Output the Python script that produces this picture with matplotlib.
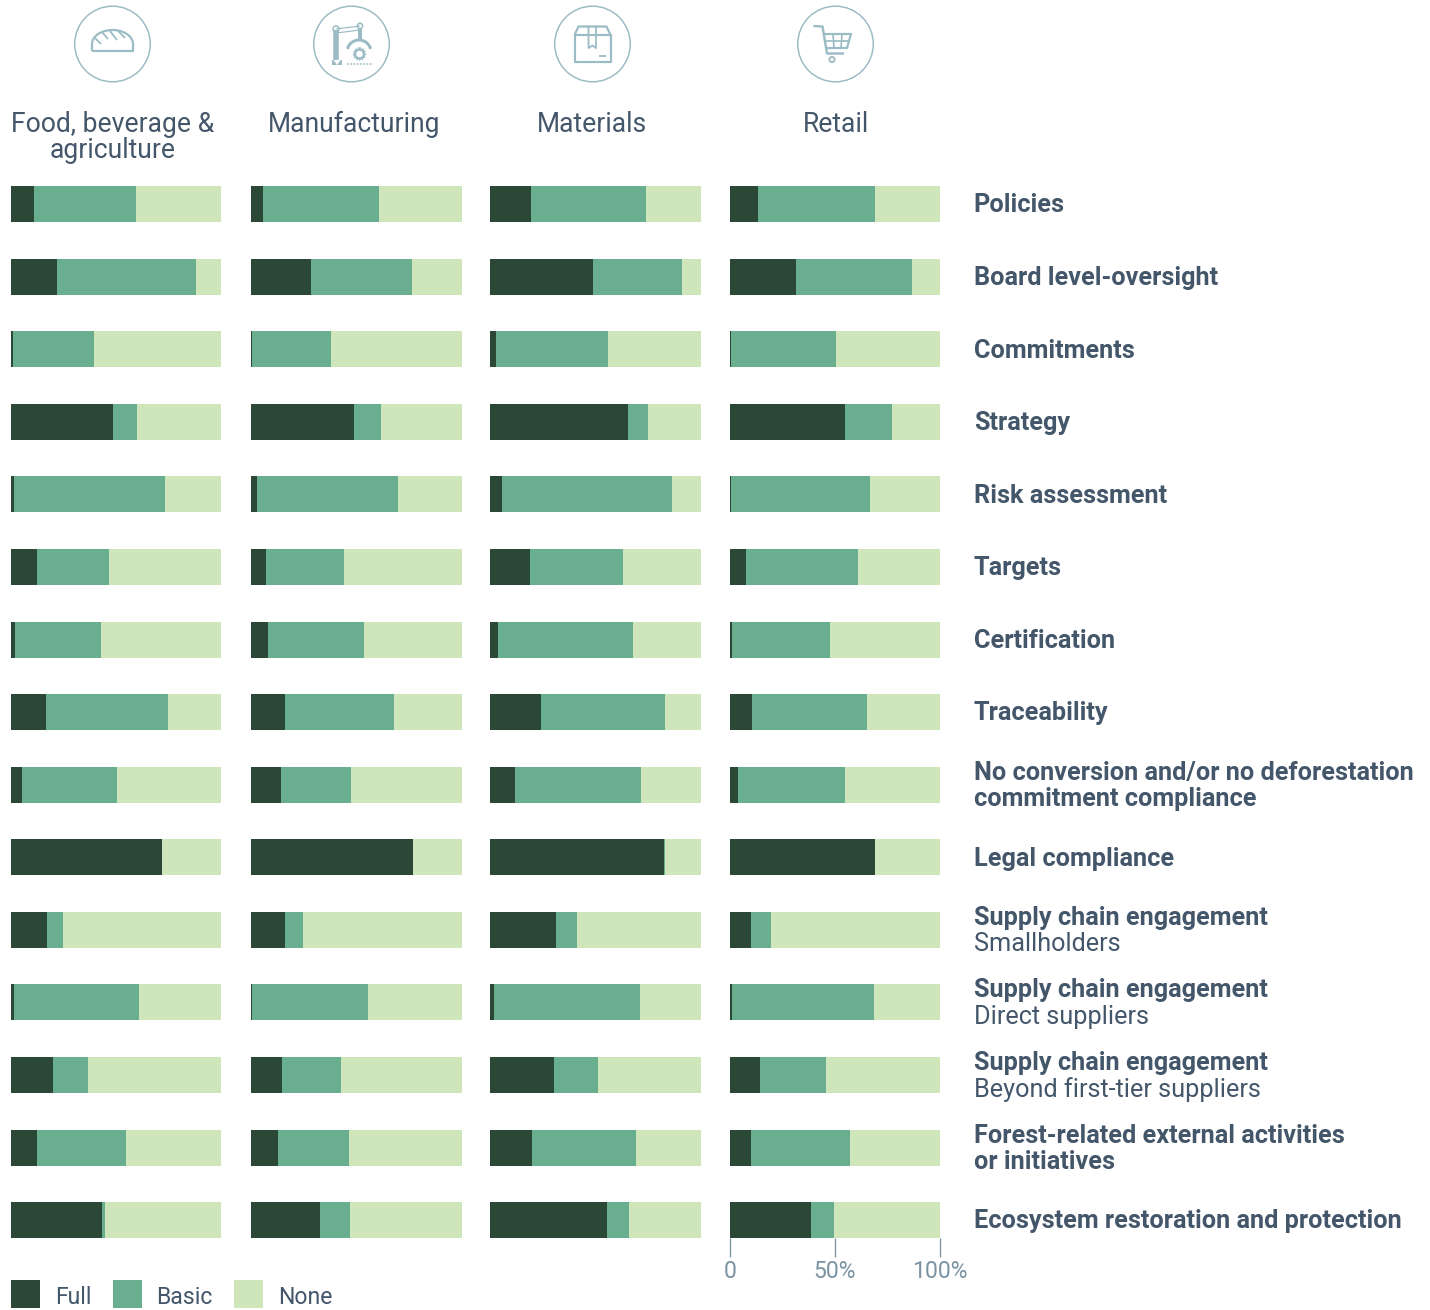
import numpy as np
import matplotlib
matplotlib.use("Agg")
import matplotlib.pyplot as plt
from matplotlib.patches import Circle, Polygon, Arc, Patch
from matplotlib.lines import Line2D

plt.rcParams['font.family'] = ['Roboto', 'DejaVu Sans']

sectors = ["Food, beverage &\nagriculture", "Manufacturing", "Materials", "Retail"]
levels = ["Full", "Basic", "None"]
row_titles = ["Policies", "Board level-oversight", "Commitments", "Strategy", "Risk assessment",
              "Targets", "Certification", "Traceability",
              "No conversion and/or no deforestation\ncommitment compliance", "Legal compliance",
              "Supply chain engagement", "Supply chain engagement", "Supply chain engagement",
              "Forest-related external activities\nor initiatives", "Ecosystem restoration and protection"]
row_subtitles = ["", "", "", "", "", "", "", "", "", "", "Smallholders", "Direct suppliers",
                 "Beyond first-tier suppliers", "", ""]
tick_values = [0, 50, 100]
tick_labels = ["0", "50%", "100%"]

food_full = [11, 22.1, 1, 48.5, 1.7, 12.4, 2.1, 17, 5.4, 72, 17.5, 1.6, 20.4, 12.7, 43.3]
food_basic = [48.5, 66, 38.5, 11.5, 71.7, 34.3, 40.7, 57.8, 45.1, 0, 7.5, 59.4, 16.6, 42, 1.4]
food_none = [40.5, 11.9, 60.5, 40, 26.6, 53.3, 57.2, 25.2, 49.5, 28, 75, 39, 63, 45.3, 55.3]

manu_full = [5.7, 28.6, 0.5, 48.8, 2.8, 7.1, 8.1, 16.1, 14.2, 76.8, 16.1, 0.4, 14.7, 12.8, 32.9]
manu_basic = [55, 47.9, 37.4, 12.8, 66.8, 37, 45.7, 51.7, 33.2, 0, 8.5, 55.1, 28, 33.6, 14.3]
manu_none = [39.3, 23.5, 62.1, 38.4, 30.4, 55.9, 46.2, 32.2, 52.6, 23.2, 75.4, 44.5, 57.3, 53.6, 52.8]

mate_full = [19.4, 48.8, 2.8, 65.4, 5.7, 19, 3.8, 24.2, 11.8, 82.5, 31.3, 1.9, 30.3, 19.9, 55.5]
mate_basic = [54.5, 42.2, 53.1, 9.5, 80.6, 44, 64, 58.8, 59.7, 0.3, 10, 69.2, 20.9, 49.3, 10.4]
mate_none = [26.1, 9, 44.1, 25.1, 13.7, 37, 32.2, 17, 28.5, 17.2, 58.7, 28.9, 48.8, 30.8, 34.1]

reta_full = [13.3, 31.4, 0.5, 54.6, 0.5, 7.6, 1, 10.5, 3.9, 69, 10, 1, 14.5, 10, 38.5]
reta_basic = [55.6, 55.2, 49.9, 22.8, 66, 53.2, 46.6, 54.6, 50.7, 0, 9.5, 67.5, 31.3, 47, 10.9]
reta_none = [31.1, 13.4, 49.6, 22.6, 33.5, 39.2, 52.4, 34.9, 45.4, 31, 80.5, 31.5, 54.2, 43, 50.6]

sector_values = [(food_full, food_basic, food_none),
                 (manu_full, manu_basic, manu_none),
                 (mate_full, mate_basic, mate_none),
                 (reta_full, reta_basic, reta_none)]

COL_FULL, COL_BASIC, COL_NONE = "#2b4736", "#68ae8f", "#cfe5ba"
colors = [COL_FULL, COL_BASIC, COL_NONE]
TXT = "#44566a"
TICK = "#7b93a2"
ICON = "#9bbcc4"

W, H = 1430, 1310
fig = plt.figure(figsize=(W / 100, H / 100), dpi=100, facecolor="white")
PX = 0.72  # points per pixel at dpi 100

def rect(x0, y0, x1, y1):
    return [x0 / W, 1 - y1 / H, (x1 - x0) / W, (y1 - y0) / H]

col_x = [(10.5, 221.2), (250.7, 461.7), (490, 701), (730, 939.8)]
top, bottom = 186.2, 1238.2
n = len(row_titles)
pitch = (bottom - top - 36) / (n - 1)
bar_h = 36 / pitch
y = np.arange(n)

for i, (x0, x1) in enumerate(col_x):
    ax = fig.add_axes(rect(x0, top, x1, bottom))
    ax.patch.set_visible(False)
    left = np.zeros(n)
    for vals, c in zip(sector_values[i], colors):
        vals = np.asarray(vals, float)
        ax.barh(y, vals, left=left, height=bar_h, color=c, linewidth=0)
        left += vals
    ax.set_xlim(0, 100)
    ax.set_ylim(n - 1 + bar_h / 2, -bar_h / 2)
    for s in ax.spines.values():
        s.set_visible(False)
    ax.set_yticks([])
    if i == 3:
        ax.set_xticks(tick_values, tick_labels)
        ax.tick_params(axis="x", length=19 * PX, width=1.3 * PX, color=TICK, labelcolor=TICK,
                       labelsize=23 * PX, pad=2.5 * PX)
    else:
        ax.set_xticks([])

ov = fig.add_axes([0, 0, 1, 1], zorder=5)
ov.set_xlim(0, W)
ov.set_ylim(H, 0)
ov.axis("off")

# Sector headings
title_x = [112.5, 353.8, 591.8, 836]
for t, xc in zip(sectors, title_x):
    for k, line in enumerate(t.split("\n")):
        ov.text(xc, 132.5 + 26 * k, line, ha="center", va="baseline", color=TXT, fontsize=26.5 * PX)

# Row labels
LX = 973.7
line_h = 26.5
for i in range(n):
    yc = top + 18 + i * pitch
    lines = [(s, "bold") for s in row_titles[i].split("\n")]
    if row_subtitles[i]:
        lines.append((row_subtitles[i], "normal"))
    y0 = yc - (len(lines) - 1) * line_h / 2 + 8.2
    for k, (s, w) in enumerate(lines):
        ov.text(LX, y0 + k * line_h, s, ha="left", va="baseline", color=TXT,
                fontsize=25.2 * PX, fontweight=w)

# Icons
lw = 1.5 * PX
lw2 = 2.2 * PX
def L(xs, ys, w=lw2, **kw):
    ov.add_line(Line2D(xs, ys, color=ICON, lw=w, solid_capstyle="butt", **kw))

for xc in [112.5, 351.5, 592.5, 835.5]:
    ov.add_patch(Circle((xc, 44), 37.8, fill=False, ec=ICON, lw=lw))

# bread
t = np.linspace(np.pi, 0, 40)
bx = np.r_[92, 112.5 + 20.5 * np.cos(t), 133, 92]
by = np.r_[51, 44 - 14 * np.sin(t), 51, 51]
L(bx, by)
for a, b, c, d in [(95, 38, 101, 44), (102, 32, 108, 39), (110, 31, 117, 40), (118, 31, 125, 38)]:
    L([a, c], [b, d], w=1.8 * PX)

# robot arm
L([336, 336], [30, 60], w=5.5 * PX)
ov.add_patch(Polygon([[332, 60], [342, 60], [342, 65], [332, 65]], fc=ICON, ec="none"))
ov.add_patch(Polygon([[333.5, 60], [340.5, 60], [337, 65]], fc="white", ec="none"))
L([336, 360], [29, 26], w=1.2 * PX)
L([336, 360], [33, 30], w=1.2 * PX)
ov.add_patch(Circle((336, 29), 3, fc="white", ec=ICON, lw=1.5 * PX))
ov.add_patch(Circle((360, 26), 2.7, fc="white", ec=ICON, lw=1.5 * PX))
L([360, 360], [29, 40], w=4 * PX)
ov.add_patch(Arc((359, 52), 24, 24, theta1=195, theta2=345, ec=ICON, lw=3 * PX))
ov.add_patch(Circle((359.5, 54), 4.5, fc="white", ec=ICON, lw=2.4 * PX, zorder=3))
ov.add_patch(Circle((359.5, 54), 6, fc="none", ec=ICON, lw=1.5 * PX, ls=(0, (1, 1)), zorder=3))
ov.add_line(Line2D([347, 373], [63.5, 63.5], color=ICON, lw=1.6 * PX, ls=(0, (1, 1))))

# box
L([574.5, 574.5, 610.5, 610.5, 574.5], [35, 61.5, 61.5, 35, 35])
L([574.5, 578.5, 606.5, 610.5], [35, 26.5, 26.5, 35])
L([588.5, 588.5, 592.5, 596, 596], [26.5, 48, 45.5, 48, 26.5], w=1.8 * PX)
L([599, 606], [56, 56], w=1.8 * PX)

# cart
L([813.5, 822.5, 827, 844], [26, 26.5, 53.5, 53.5], w=2.4 * PX)
L([824, 851, 847, 826.5], [34, 34, 48, 48])
L([833, 834], [34, 48], w=1.7 * PX)
L([842, 841], [34, 48], w=1.7 * PX)
L([825.5, 849], [41, 41], w=1.7 * PX)
ov.add_patch(Circle((832, 59.5), 2.6, fc="white", ec=ICON, lw=1.8 * PX))

# Legend
fs = 23
handles = [Patch(fc=c, ec="none", label=l) for c, l in zip(colors, levels)]
leg = fig.legend(handles=handles, loc="lower left", bbox_to_anchor=(11 / W, 1 - 1308 / H), ncol=3, frameon=False,
                 fontsize=fs * PX, labelcolor=TXT, borderpad=0, borderaxespad=0,
                 handlelength=29 / fs, handleheight=(28 / fs - 0.245) / 0.65, handletextpad=15 / fs,
                 columnspacing=21 / fs)
for txt in leg.get_texts():
    txt.set_y(-2.5)

fig.savefig("out.png", dpi=100, facecolor="white")
